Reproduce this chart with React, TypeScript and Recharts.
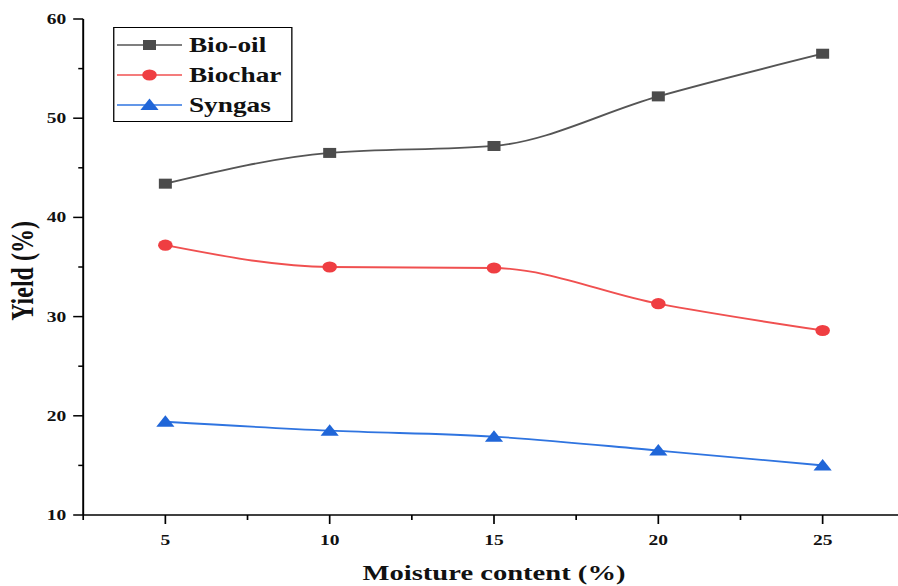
import { LineChart, Line, XAxis, YAxis, Legend } from "recharts";

// moisture content (%) on x
const moisture = [5, 10, 15, 20, 25];
// yields (%)
const bioOil = [43.4, 46.5, 47.2, 52.2, 56.5];
const biochar = [37.2, 35.0, 34.9, 31.3, 28.6];
const syngas = [19.4, 18.5, 17.9, 16.5, 15.0];

const xTicks = [2.5, 5, 7.5, 10, 12.5, 15, 17.5, 20, 22.5, 25];
const yTicks = [10, 15, 20, 25, 30, 35, 40, 45, 50, 55, 60];

const data = moisture.map((m, i) => ({
  moisture: m,
  bioOil: bioOil[i],
  biochar: biochar[i],
  syngas: syngas[i],
}));

const FONT = "'Liberation Serif', 'Times New Roman', serif";
const STRETCH = 1.3;

const GRAY = "#4b4b4b";
const RED = "#ef3e42";
const BLUE = "#2066d8";

const square = (color: string) => (p: any) => (
  <rect key={p.key ?? `${p.cx}-${p.cy}`} x={p.cx - 5} y={p.cy - 5} width={10} height={10} fill={color} />
);
const circle = (color: string) => (p: any) => (
  <circle key={p.key ?? `${p.cx}-${p.cy}`} cx={p.cx} cy={p.cy} r={5.6} fill={color} />
);
const triangle = (color: string) => (p: any) => (
  <polygon
    key={p.key ?? `${p.cx}-${p.cy}`}
    points={`${p.cx},${p.cy - 6.5} ${p.cx + 7},${p.cy + 5} ${p.cx - 7},${p.cy + 5}`}
    fill={color}
  />
);

const XTick = (props: any) => {
  const { x, y, payload } = props;
  const major = payload.value % 5 === 0;
  return (
    <g>
      <line x1={x} x2={x} y1={y} y2={y + (major ? 9 : 5)} stroke="#000" strokeWidth={1.3} />
      {major && (
        <text x={x} y={y + 30} textAnchor="middle" fontFamily={FONT} fontWeight="bold" fontSize={15} fill="#111">
          {payload.value}
        </text>
      )}
    </g>
  );
};

const YTick = (props: any) => {
  const { x, y, payload } = props;
  const major = payload.value % 10 === 0;
  return (
    <g>
      <line x1={x - (major ? 7.7 : 3.8)} x2={x} y1={y} y2={y} stroke="#000" strokeWidth={1.5} />
      {major && (
        <text x={x - 13} y={y + 5} textAnchor="end" fontFamily={FONT} fontWeight="bold" fontSize={15} fill="#111">
          {payload.value}
        </text>
      )}
    </g>
  );
};

const legendItems = [
  { name: "Bio-oil", color: GRAY, line: "#555" },
  { name: "Biochar", color: RED, line: "#f05050" },
  { name: "Syngas", color: BLUE, line: "#2f74e0" },
];

const renderLegend = () => (
  <div
    style={{
      border: "1.5px solid #000",
      width: 138,
      height: 95,
      boxSizing: "border-box",
      paddingTop: 2,
      background: "#fff",
    }}
  >
    {legendItems.map((it, i) => (
      <div key={it.name} style={{ display: "flex", alignItems: "center", height: 30 }}>
        <svg width={50} height={20} style={{ marginLeft: 2.3, flex: "none" }}>
          <line x1={0} x2={50} y1={10} y2={10} stroke={it.line} strokeWidth={1.6} />
          {i === 0 && <rect x={20} y={5} width={10} height={10} fill={it.color} />}
          {i === 1 && <circle cx={25} cy={10} r={5.6} fill={it.color} />}
          {i === 2 && <polygon points="25,3.5 32,15 18,15" fill={it.color} />}
        </svg>
        <span
          style={{
            marginLeft: 5,
            fontFamily: FONT,
            fontWeight: "bold",
            fontSize: 21,
            color: "#111",
            lineHeight: "20px",
          }}
        >
          {it.name}
        </span>
      </div>
    ))}
  </div>
);

export default function App() {
  return (
    <div style={{ position: "absolute", left: 0, top: 0, width: 898, height: 586, overflow: "hidden", background: "#fff" }}>
      <div style={{ transform: `scaleX(${STRETCH})`, transformOrigin: "0 0", width: 710, height: 600 }}>
        <LineChart width={710} height={600} data={data} margin={{ top: 19, right: 14, left: 0, bottom: 0 }}>
          <XAxis
            dataKey="moisture"
            type="number"
            domain={[2.5, 27.5]}
            ticks={xTicks}
            interval={0}
            tickSize={0}
            tickMargin={0}
            tickLine={false}
            tick={XTick}
            axisLine={{ stroke: "#000", strokeWidth: 1.5 }}
            height={85}
            label={{
              content: (p: any) => {
                const vb = p.viewBox || {};
                return (
                  <text
                    x={vb.x + vb.width / 2}
                    y={580}
                    textAnchor="middle"
                    fontFamily={FONT}
                    fontWeight="bold"
                    fontSize={22}
                    fill="#111"
                  >
                    Moisture content (%)
                  </text>
                );
              },
            }}
          />
          <XAxis
            xAxisId="top"
            orientation="top"
            dataKey="moisture"
            type="number"
            domain={[2.5, 27.5]}
            height={0}
            tick={false}
            tickLine={false}
            axisLine={{ stroke: "#333", strokeWidth: 1.5 }}
          />
          <YAxis
            type="number"
            domain={[10, 60]}
            ticks={yTicks}
            interval={0}
            width={64}
            tickSize={0}
            tickMargin={0}
            tickLine={false}
            tick={YTick}
            axisLine={{ stroke: "#000", strokeWidth: 1.5 }}
            label={{
              content: () => (
                <text
                  x={17}
                  y={271}
                  textAnchor="middle"
                  dominantBaseline="central"
                  transform="rotate(-90 17 271)"
                  fontFamily={FONT}
                  fontWeight="bold"
                  fontSize={24}
                  fill="#111"
                >
                  Yield (%)
                </text>
              ),
            }}
          />
          <Legend
            layout="vertical"
            align="center"
            verticalAlign="middle"
            content={renderLegend}
            wrapperStyle={{ top: 27, left: 87, width: "auto", height: "auto" }}
          />
          <Line
            type="monotone"
            dataKey="bioOil"
            name="Bio-oil"
            stroke="#555"
            strokeWidth={1.8}
            dot={square(GRAY)}
            activeDot={false}
            isAnimationActive={false}
          />
          <Line
            type="monotone"
            dataKey="biochar"
            name="Biochar"
            stroke="#f05050"
            strokeWidth={1.8}
            dot={circle(RED)}
            activeDot={false}
            isAnimationActive={false}
          />
          <Line
            type="monotone"
            dataKey="syngas"
            name="Syngas"
            stroke="#2f74e0"
            strokeWidth={1.8}
            dot={triangle(BLUE)}
            activeDot={false}
            isAnimationActive={false}
          />
        </LineChart>
      </div>
    </div>
  );
}
